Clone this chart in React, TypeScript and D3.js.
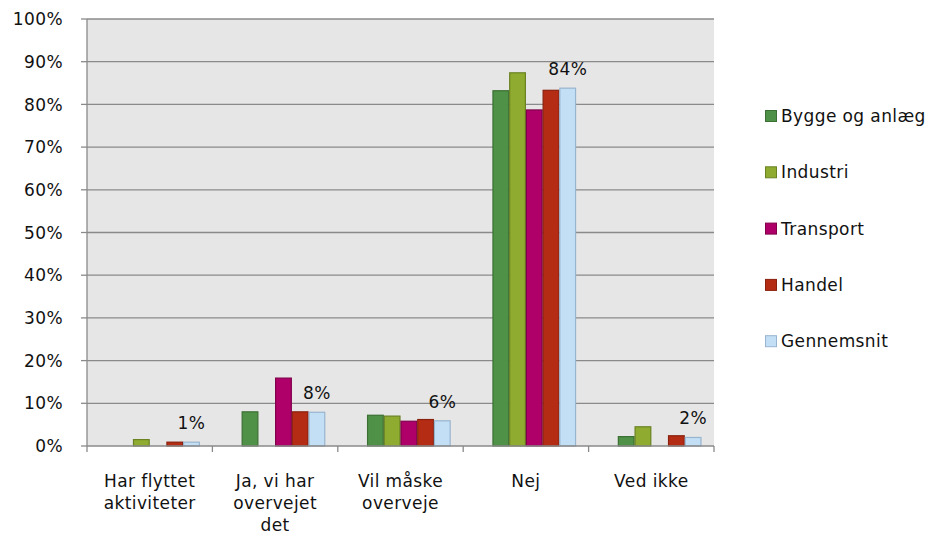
import React from 'react';
import * as d3 from 'd3';

const width = 933;
const height = 536;
const margin = {top: 19, right: 219, bottom: 90, left: 87};
const font = 'Verdana, "DejaVu Sans", sans-serif';

const categories = [
    ['Har flyttet', 'aktiviteter'],
    ['Ja, vi har', 'overvejet', 'det'],
    ['Vil måske', 'overveje'],
    ['Nej'],
    ['Ved ikke'],
];
const seriesNames = ['Bygge og anlæg', 'Industri', 'Transport', 'Handel', 'Gennemsnit'];
const fills = ['#4f9146', '#8fac30', '#ae0068', '#b52c15', '#c2dff6'];
const strokes = ['#3b6f33', '#6a8222', '#80004c', '#8a200e', '#98b5cf'];

// percent per category, one array per series
const bygge = [0, 8.0, 7.2, 83.2, 2.2];
const industri = [1.5, 0, 7.0, 87.4, 4.5];
const transport = [0, 15.9, 5.8, 78.7, 0];
const handel = [0.9, 8.0, 6.2, 83.3, 2.4];
const gennemsnit = [0.9, 7.9, 5.9, 83.8, 2.0];
const seriesValues = [bygge, industri, transport, handel, gennemsnit];

const yTicks = [0, 10, 20, 30, 40, 50, 60, 70, 80, 90, 100];

export default function App() {
    const x0 = d3.scaleBand<number>()
        .domain(d3.range(categories.length))
        .range([margin.left, width - margin.right]);
    // Excel leaves an empty first slot in each group
    const slots = ['_blank', ...seriesNames];
    const x1 = d3.scaleBand<string>()
        .domain(slots)
        .range([0, x0.bandwidth()])
        .paddingInner(0)
        .paddingOuter(0.75);
    const y = d3.scaleLinear().domain([0, 100]).range([height - margin.bottom, margin.top]);

    const plotRight = width - margin.right;
    const plotBottom = height - margin.bottom;
    const ticksX = d3.range(categories.length + 1).map(i => margin.left + i * x0.bandwidth());

    return (
        <svg width={width} height={height} style={{position: 'absolute', left: 0, top: 0, background: '#fff'}}
             fontFamily={font}>
            <rect x={margin.left} y={margin.top} width={plotRight - margin.left} height={plotBottom - margin.top}
                  fill='#e6e6e6'/>
            {yTicks.map(t => (
                <g key={t}>
                    {t > 0 && <line x1={margin.left} x2={plotRight} y1={y(t)} y2={y(t)} stroke='#8a8a8a' strokeWidth={1.3}/>}
                    <line x1={margin.left - 6} x2={margin.left} y1={y(t)} y2={y(t)} stroke='#8a8a8a' strokeWidth={1.3}/>
                    <text x={63} y={y(t)} dy='0.36em' textAnchor='end' fontSize={17} fill='#111'
                          letterSpacing={0.4}>{t}%</text>
                </g>
            ))}
            {seriesValues.map((vals, si) => vals.map((v, ci) => v > 0 && (
                <rect key={`${si}-${ci}`}
                      x={x0(ci)! + x1(seriesNames[si])! + 0.5}
                      y={y(v)}
                      width={x1.bandwidth() - 1}
                      height={plotBottom - y(v)}
                      fill={fills[si]} stroke={strokes[si]} strokeWidth={1.2}/>
            )))}
            {gennemsnit.map((v, ci) => (
                <text key={ci} x={x0(ci)! + x1('Gennemsnit')! + x1.bandwidth() / 2} y={y(v) - 13}
                      textAnchor='middle' fontSize={17} fill='#111' letterSpacing={0.4}>
                    {Math.round(v)}%
                </text>
            ))}
            <line x1={margin.left} x2={margin.left} y1={margin.top} y2={plotBottom} stroke='#8a8a8a' strokeWidth={1.3}/>
            <line x1={margin.left} x2={plotRight} y1={plotBottom} y2={plotBottom} stroke='#8a8a8a' strokeWidth={1.3}/>
            {ticksX.map((tx, i) => (
                <line key={i} x1={tx} x2={tx} y1={plotBottom} y2={plotBottom + 6} stroke='#8a8a8a' strokeWidth={1.3}/>
            ))}
            {categories.map((lines, ci) => (
                <text key={ci} x={x0(ci)! + x0.bandwidth() / 2} y={487} textAnchor='middle' fontSize={17}
                      fill='#111' letterSpacing={0.4}>
                    {lines.map((l, li) => <tspan key={li} x={x0(ci)! + x0.bandwidth() / 2} dy={li === 0 ? 0 : 22}>{l}</tspan>)}
                </text>
            ))}
            {seriesNames.map((name, si) => (
                <g key={name} transform={`translate(765, ${116 + si * 56.3})`}>
                    <rect x={0.5} y={-5.5} width={11} height={11} fill={fills[si]} stroke={strokes[si]} strokeWidth={1}/>
                    <text x={16} y={0} dy='0.36em' fontSize={17} fill='#111' letterSpacing={0.4}>{name}</text>
                </g>
            ))}
        </svg>
    );
}
